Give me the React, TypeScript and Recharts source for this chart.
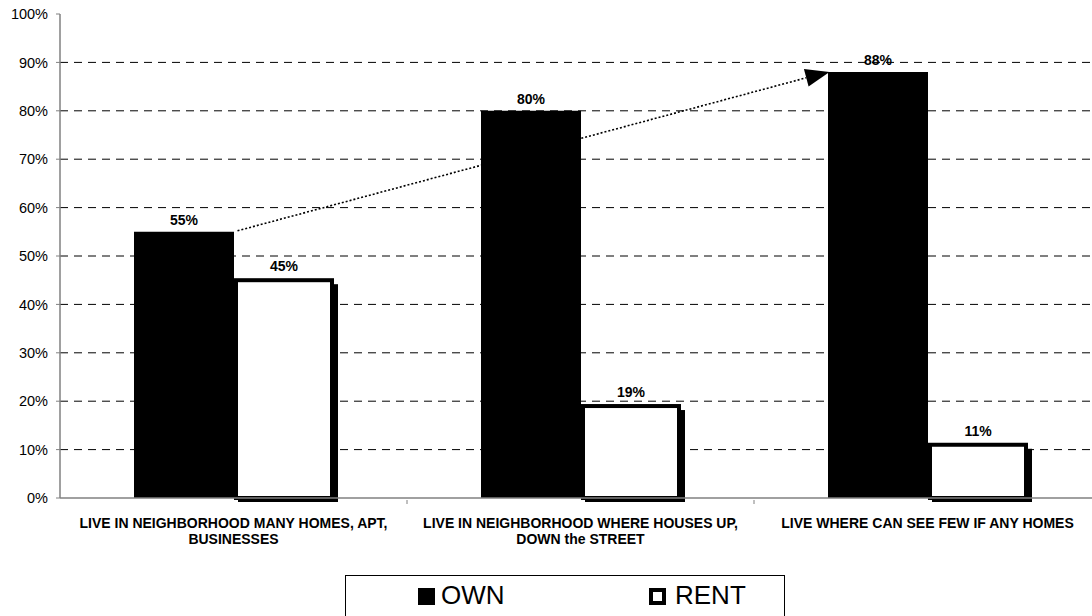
import React from 'react';
import {BarChart, Bar, XAxis, YAxis, CartesianGrid, LabelList, ReferenceLine} from 'recharts';

const categories = [
  ['LIVE IN NEIGHBORHOOD MANY HOMES, APT,', 'BUSINESSES'],
  ['LIVE IN NEIGHBORHOOD WHERE HOUSES UP,', 'DOWN the STREET'],
  ['LIVE WHERE CAN SEE FEW IF ANY HOMES'],
];
const own = [55, 80, 88];
const rent = [45, 19, 11];
const yTicks = [0, 10, 20, 30, 40, 50, 60, 70, 80, 90, 100];
const gridValues = [10, 20, 30, 40, 50, 60, 70, 80, 90];

const data = categories.map((lines, i) => ({
  name: lines.join(' '),
  own: own[i],
  rent: rent[i],
}));

const FONT = 'Arial, "Liberation Sans", sans-serif';
const BAR = 100;

const CategoryTick = ({ x, y, payload, index }: any) => {
  const lines = categories[index] || [payload.value];
  const half = payload && payload.offset ? payload.offset : 173.5;
  return (
    <g>
      {index < categories.length - 1 && (
        <line x1={x + half} y1={y} x2={x + half} y2={y + 4} stroke="#808080" />
      )}
      <text x={x} y={y} textAnchor="middle" fontFamily={FONT} fontSize={14} fontWeight="bold" fill="#000">
        {lines.map((l: string, i: number) => (
          <tspan key={i} x={x} y={y + 28 + i * 16}>{l}</tspan>
        ))}
      </text>
    </g>
  );
};

const RentShape = (p: any) => {
  const { x, y, width, height } = p;
  return (
    <g>
      <rect x={x + 4} y={y + 4} width={width} height={height} fill="#000" />
      <rect x={x + 2} y={y} width={width - 4} height={height} fill="#fff" stroke="#000" strokeWidth={4} />
    </g>
  );
};

// arrow from the top of the first OWN bar to the top-left corner of the last one
const ArrowShape = (p: any) => {
  const { x1, y1, y2 } = p;
  const x2 = p.x2 - BAR;
  if ([x1, y1, x2, y2].some(v => v == null || isNaN(v))) return null;
  const ang = Math.atan2(y2 - y1, x2 - x1);
  const len = 22;
  const half = 9;
  const bx = x2 - len * Math.cos(ang);
  const by = y2 - len * Math.sin(ang);
  const nx = -Math.sin(ang);
  const ny = Math.cos(ang);
  const pts = `${x2 + 2},${y2} ${bx + nx * half},${by + ny * half} ${bx - nx * half},${by - ny * half}`;
  return (
    <g>
      <line x1={x1 + 4} y1={y1 - 1} x2={bx} y2={by} stroke="#000" strokeWidth={1.6} strokeDasharray="2 2" />
      <polygon points={pts} fill="#000" />
    </g>
  );
};

const LegendBox = () => (
  <div style={{
    position: 'absolute',
    left: 345,
    top: 575,
    width: 440,
    height: 60,
    border: '1.5px solid #000',
    boxSizing: 'border-box',
    fontFamily: FONT,
    fontSize: 26,
    background: '#fff',
  }}>
    <div style={{ position: 'absolute', left: 72, top: 12, width: 17, height: 17, background: '#000' }} />
    <div style={{ position: 'absolute', left: 95, top: 4, lineHeight: '30px' }}>OWN</div>
    <div style={{ position: 'absolute', left: 303, top: 12, width: 17, height: 17, border: '4px solid #000', boxSizing: 'border-box' }} />
    <div style={{ position: 'absolute', left: 329, top: 4, lineHeight: '30px' }}>RENT</div>
  </div>
);

const labelStyle = { fontFamily: FONT, fontSize: 14, fontWeight: 'bold', fill: '#000' };

export default function App() {
  return (
    <div style={{ position: 'absolute', left: 0, top: 0, width: 1092, height: 616, overflow: 'hidden', background: '#fff' }}>
      <BarChart
        width={1101}
        height={616}
        data={data}
        margin={{ top: 14, right: 0, left: 0, bottom: 58 }}
        barSize={BAR}
        barGap={0}
      >
        <CartesianGrid horizontal vertical={false} horizontalValues={gridValues} stroke="#000" strokeDasharray="8 6" />
        <XAxis
          dataKey="name"
          height={60}
          axisLine={{ stroke: '#808080', strokeWidth: 1.5 }}
          tickLine={false}
          tickSize={0}
          interval={0}
          tick={<CategoryTick />}
        />
        <YAxis
          width={60}
          domain={[0, 100]}
          ticks={yTicks}
          tickFormatter={(v: number) => `${v}%`}
          tickSize={4}
          tickMargin={8}
          tick={{ fontFamily: FONT, fontSize: 14.5, fill: '#000' }}
          tickLine={{ stroke: '#808080' }}
          axisLine={{ stroke: '#808080', strokeWidth: 1.5 }}
        />
        <Bar dataKey="own" fill="#000" isAnimationActive={false}>
          <LabelList
            dataKey="own"
            position="top"
            offset={7}
            formatter={(v: any) => `${v}%`}
            style={labelStyle}
          />
        </Bar>
        <Bar dataKey="rent" fill="#fff" shape={<RentShape />} isAnimationActive={false}>
          <LabelList
            dataKey="rent"
            position="top"
            offset={9}
            formatter={(v: any) => `${v}%`}
            style={labelStyle}
          />
        </Bar>
        <ReferenceLine
          segment={[{ x: data[0].name, y: own[0] }, { x: data[2].name, y: own[2] }]}
          shape={<ArrowShape />}
          ifOverflow="visible"
        />
      </BarChart>
      <LegendBox />
    </div>
  );
}
